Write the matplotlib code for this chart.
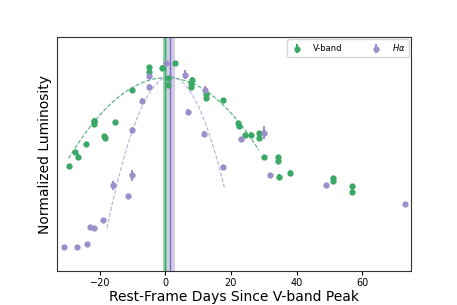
import numpy as np
import matplotlib
matplotlib.use("Agg")
import matplotlib.pyplot as plt

# V-band photometry (days since V peak, normalized luminosity)
v_days = [-29.3, -27.5, -26.5, -24.2, -21.9, -21.9, -21.9, -18.6, -18.3, -15.3,
          -10.3, -5.1, -5.1, -1.1, 0.7, 0.7, 2.9, 8.2, 7.9, 7.9, 12.5, 12.5,
          17.5, 22.3, 22.6, 24.2, 26.1, 28.5, 28.5, 30.0, 34.5, 34.5, 34.8,
          37.9, 51.1, 51.1, 56.9, 56.9]
v_lum = [0.449, 0.509, 0.488, 0.541, 0.642, 0.641, 0.627, 0.576, 0.569, 0.637,
         0.772, 0.869, 0.848, 0.868, 0.822, 0.795, 0.888, 0.817, 0.803, 0.786,
         0.756, 0.737, 0.729, 0.630, 0.618, 0.580, 0.583, 0.590, 0.569, 0.486,
         0.486, 0.471, 0.403, 0.420, 0.397, 0.387, 0.362, 0.340]
v_err = [0.010] * len(v_days)

# H-alpha
ha_days = [-30.9, -26.9, -23.9, -23.0, -21.9, -18.9, -15.9, -10.3, -11.3, -10.3,
           -7.0, -4.9, -4.9, 0.1, 6.1, 7.0, 12.1, 11.9, 17.7, 23.0, 30.1, 32.0,
           49.1, 73.1]
ha_lum = [0.105, 0.105, 0.119, 0.190, 0.187, 0.217, 0.366, 0.409, 0.320, 0.604,
          0.727, 0.787, 0.833, 0.888, 0.838, 0.680, 0.771, 0.586, 0.443, 0.563,
          0.591, 0.411, 0.366, 0.288]
ha_err = [0.008, 0.008, 0.008, 0.008, 0.008, 0.008, 0.018, 0.025, 0.010, 0.010,
          0.010, 0.010, 0.010, 0.010, 0.018, 0.012, 0.020, 0.010, 0.010, 0.008,
          0.028, 0.008, 0.008, 0.008]

# quadratic fits: peak, centre, curvature, range
v_fit = [0.825, 0.3, 3.87e-4, -29.5, 28.5]
ha_fit = [0.83, 1.5, 1.734e-3, -17.8, 18.0]

# peak epochs with uncertainty
v_peak, v_lo, v_hi = 0.0, -0.7, 0.5
ha_peak, ha_lo, ha_hi = 1.4, 0.5, 3.05

green = "#3aa866"
purple = "#9a8fcb"

fig, ax = plt.subplots(figsize=(4.57, 3.05), dpi=100)
fig.subplots_adjust(left=0.125, right=0.9, top=0.88, bottom=0.11)

ax.axvspan(v_lo, v_hi, color=green, alpha=0.5, lw=0)
ax.axvline(v_peak, color=green, lw=1.0)
ax.axvspan(ha_lo, ha_hi, color=purple, alpha=0.45, lw=0)
ax.axvline(ha_peak, color="#7f6fc0", lw=1.0)

for p, c in ((v_fit, green), (ha_fit, purple)):
    xx = np.linspace(p[3], p[4], 200)
    ax.plot(xx, p[0] - p[2] * (xx - p[1]) ** 2, ls="--", lw=0.8, color=c, alpha=0.9 if c == green else 0.7)

ax.errorbar(v_days, v_lum, yerr=v_err, fmt="o", ms=3.5, color=green, ecolor=green, label="V-band")
ax.errorbar(ha_days, ha_lum, yerr=ha_err, fmt="o", ms=3.5, color=purple, ecolor=purple, label=r"$H\alpha$")

ax.set_xlim(-33, 75)
ax.set_ylim(0, 1)
ax.set_yticks([])
ax.tick_params(axis="x", labelsize=7, length=3, pad=2)
for s in ax.spines.values():
    s.set_color("#333333")
ax.set_xlabel("Rest-Frame Days Since V-band Peak", fontsize=10, labelpad=1)
ax.set_ylabel("Normalized Luminosity", fontsize=10)
ax.legend(loc="upper right", ncol=2, fontsize=6, handlelength=1.5,
          handletextpad=1.2, columnspacing=3.2, borderaxespad=0.3)

fig.savefig("out.png", dpi=100)
